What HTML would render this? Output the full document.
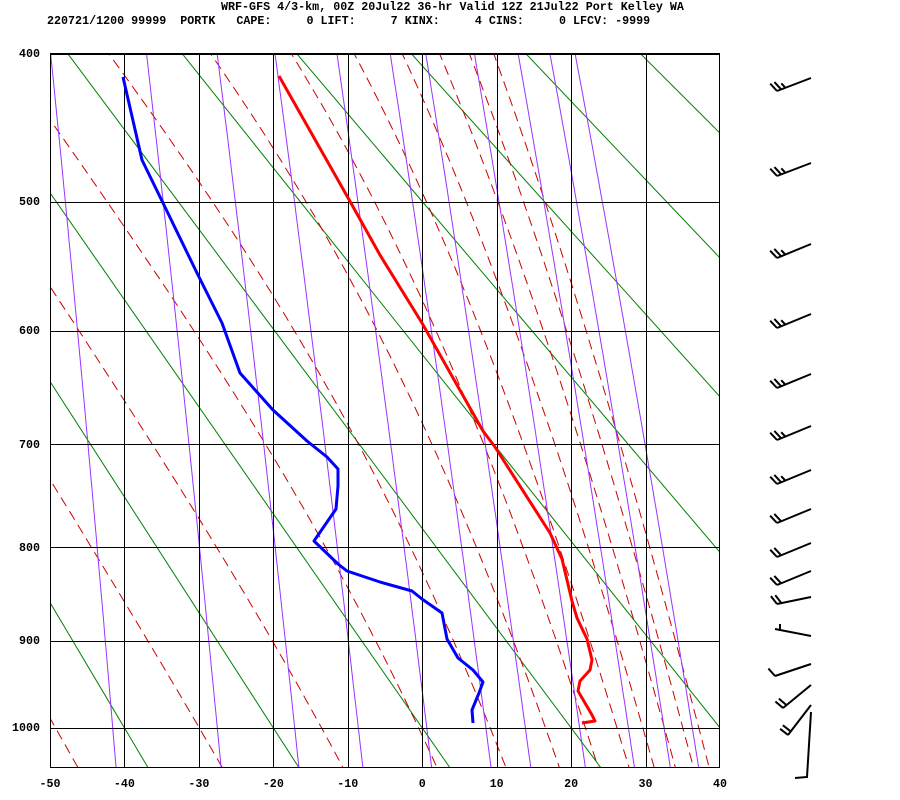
<!DOCTYPE html>
<html><head><meta charset="utf-8"><style>
html,body{margin:0;padding:0;background:#fff;}
body{width:900px;height:800px;position:relative;overflow:hidden;font-family:"Liberation Mono",monospace;font-weight:bold;font-size:11.7px;}
.t{position:absolute;white-space:pre;color:#000;}
</style></head><body>
<div class="t" style="left:221px;top:0px;">WRF-GFS 4/3-km, 00Z 20Jul22 36-hr Valid 12Z 21Jul22 Port Kelley WA</div>
<div class="t" style="left:47px;top:14px;">220721/1200 99999  PORTK   CAPE:     0 LIFT:     7 KINX:     4 CINS:     0 LFCV: -9999</div>
<svg id="s" width="900" height="800" style="position:absolute;left:0;top:0;" xmlns="http://www.w3.org/2000/svg"></svg>
<script>
var s=document.getElementById('s');var NS='http://www.w3.org/2000/svg';
function X(T){return 50+(T+50)*7.4444;}
function Y(p){return -2194.8+405.3*Math.pow(p,0.286);}
function el(n,a,par){var e=document.createElementNS(NS,n);for(var k in a)e.setAttribute(k,a[k]);(par||s).appendChild(e);return e;}
var defs=el('defs',{});var cp=el('clipPath',{id:'c'},defs);el('rect',{x:50,y:53,width:670,height:715},cp);
var g=el('g',{'clip-path':'url(#c)'});
function pl(pts,a,par){el('polyline',Object.assign({points:pts.map(function(q){return q[0].toFixed(1)+','+q[1].toFixed(1)}).join(' '),fill:'none'},a),par||g);}
var ps=[];for(var p=380;p<=1060;p+=10)ps.push(p);
for(var th=-80;th<=180;th+=20){var K=th+273.15;pl([[X(K*Math.pow(0.38,0.286)-273.15),Y(380)],[X(K*Math.pow(1.06,0.286)-273.15),Y(1060)]],{stroke:'#008000','stroke-width':1});}
function es(T){return 6.112*Math.exp(17.67*(T-273.15)/(T-29.65));}
function the(T,p){var e=es(T);var w=0.622*e/(p-e);return T*Math.pow(1000/p,0.2857)*Math.exp(2.5e6*w/(1004*T));}
[186,205,224,244,263,282,301,321,340,359,378,397,416,435].forEach(function(te){var pts=[];ps.forEach(function(p){var lo=150,hi=330;if(the(hi,p)<te)return;for(var i=0;i<40;i++){var m=(lo+hi)/2;if(the(m,p)<te)lo=m;else hi=m;}pts.push([X(lo-273.15),Y(p)]);});if(pts.length>1)pl(pts,{stroke:'#cc0000','stroke-width':1,'stroke-dasharray':'10,6'});});
[0.1,0.4,1,2,4,7,10,16,24,32,40].forEach(function(w){var pts=[];ps.forEach(function(p){var e=w*p/(622+w);var L=Math.log(e/6.112);pts.push([X(243.5*L/(17.67-L)),Y(p)]);});pl(pts,{stroke:'#9933ff','stroke-width':1});});
[400,500,600,700,800,900,1000].forEach(function(p){var y=Math.round(Y(p))+0.5;el('line',{x1:50,x2:720,y1:y,y2:y,stroke:'#000','stroke-width':1});});
for(var T=-40;T<=30;T+=10){var x=Math.round(X(T))+0.5;el('line',{x1:x,x2:x,y1:53,y2:768,stroke:'#000','stroke-width':1});}
el('rect',{x:50.5,y:53.5,width:669,height:714,fill:'none',stroke:'#000','stroke-width':1});
[[400,53],[500,201],[600,330],[700,444],[800,547],[900,640],[1000,727]].forEach(function(a){var t=el('text',{x:40,y:a[1]+4,'text-anchor':'end','font-family':'Liberation Mono, monospace','font-weight':'bold','font-size':'11.7'});t.textContent=a[0];});
for(var T=-50;T<=40;T+=10){var t=el('text',{x:X(T),y:787,'text-anchor':'middle','font-family':'Liberation Mono, monospace','font-weight':'bold','font-size':'11.7'});t.textContent=T;}
pl([[279,76],[347,196],[380,255],[422,323],[483,431],[495,447],[550,533],[562,559],[572,601],[577,618],[587,639],[592,660],[590,670],[580,681],[578,691],[585,703],[592,715],[595,721],[582,723]],{stroke:'#ff0000','stroke-width':3,'stroke-linejoin':'round'},s);
pl([[123,77],[142,160],[163,203],[197,273],[222,323],[240,373],[273,410],[307,441],[327,457],[338,469],[338,486],[336,509],[314,541],[338,564],[347,571],[380,582],[412,591],[422,599],[442,613],[447,639],[458,658],[473,670],[483,682],[479,693],[472,710],[473,723]],{stroke:'#0000ff','stroke-width':3,'stroke-linejoin':'round'},s);
var B=[[811,78,777,91,3],[811,163,777,176,3],[811,244,777,258,3],[811,314,777,328,3],[811,374,777,388,3],[811,426,777,440,3],[811,470,777,484,3],[811,509,777,523,2],[811,543,777,557,2],[811,571,777,585,2],[811,597,777,604,2],[811,636,775,629,0],[811,664,775,676,1],[811,685,783,708,2],[811,705,788,735,2]];
B.forEach(function(b){var dx=b[2]-b[0],dy=b[3]-b[1],L=Math.hypot(dx,dy),ux=dx/L,uy=dy/L;var fx=-Math.abs(uy)*0.6+ux*0.5, fy=-0.85+uy*0.3;var n=Math.hypot(fx,fy);fx/=n;fy/=n;
el('line',{x1:b[0],y1:b[1],x2:b[2],y2:b[3],stroke:'#000','stroke-width':2},s);
for(var i=0;i<b[4];i++){var sx=b[2]-ux*i*4.5,sy=b[3]-uy*i*4.5;var len=(i==b[4]-1&&b[4]==3)?6:10;el('line',{x1:sx,y1:sy,x2:sx+fx*len,y2:sy+fy*len,stroke:'#000','stroke-width':2},s);}});
el('line',{x1:780,y1:631,x2:780,y2:624,stroke:'#000','stroke-width':2},s);
pl([[811,712],[807,777],[795,778]],{stroke:'#000','stroke-width':2},s);
</script>
</body></html>
